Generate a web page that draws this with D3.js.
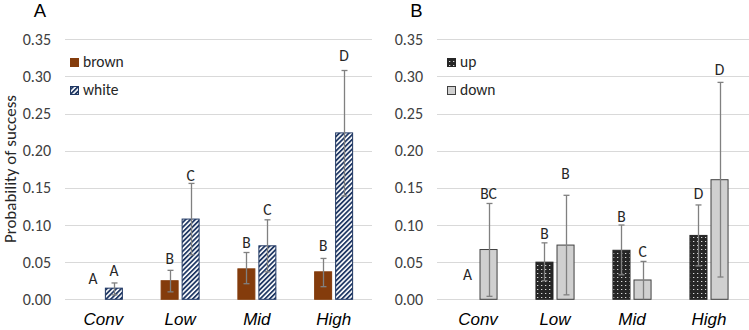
<!DOCTYPE html>
<html><head><meta charset="utf-8">
<script src="https://cdn.jsdelivr.net/npm/d3@7"></script>
<style>
body{margin:0;background:#fff;}
svg{display:block;}
</style></head>
<body>
<svg id="chart" width="749" height="330"></svg>
<script>
// ---- data ----
const categories = ["Conv", "Low", "Mid", "High"];
const yTicks = [0, 0.05, 0.10, 0.15, 0.20, 0.25, 0.30, 0.35];

// Panel A
const seriesA = ["brown", "white"];
const brownVal = [0, 0.025, 0.041, 0.037];
const brownErrHi = [0, 0.039, 0.063, 0.055];
const brownErrLo = [0, 0.010, 0.021, 0.017];
const brownLetter = ["A", "B", "B", "B"];
const brownLetterAt = [0.0206, 0.047, 0.0686, 0.065];
const whiteVal = [0.015, 0.108, 0.072, 0.224];
const whiteErrHi = [0.022, 0.156, 0.107, 0.308];
const whiteErrLo = [0.006, 0.060, 0.037, 0.139];
const whiteLetter = ["A", "C", "C", "D"];
const whiteLetterAt = [0.0314, 0.159, 0.114, 0.321];

// Panel B
const seriesB = ["up", "down"];
const upVal = [0, 0.050, 0.066, 0.086];
const upErrHi = [0, 0.076, 0.100, 0.127];
const upErrLo = [0, 0.025, 0.033, 0.045];
const upLetter = ["A", "B", "B", "D"];
const upLetterAt = [0.026, 0.081, 0.1045, 0.1346];
const downVal = [0.067, 0.073, 0.026, 0.161];
const downErrHi = [0.129, 0.140, 0.051, 0.292];
const downErrLo = [0.004, 0.006, 0, 0.030];
const downLetter = ["BC", "B", "C", "D"];
const downLetterAt = [0.1346, 0.1615, 0.057, 0.302];

const yTitle = "Probability of success";

// ---- drawing ----
const svg = d3.select("#chart");
const defs = svg.append("defs");

// stripes pattern
const stripe = defs.append("pattern").attr("id", "stripes")
  .attr("patternUnits", "userSpaceOnUse").attr("width", 3.4).attr("height", 4)
  .attr("patternTransform", "rotate(45)");
stripe.append("rect").attr("width", 3.4).attr("height", 4).attr("fill", "#ffffff");
stripe.append("rect").attr("width", 1.8).attr("height", 4).attr("fill", "#203864");

// dots pattern
const dots = defs.append("pattern").attr("id", "dots")
  .attr("patternUnits", "userSpaceOnUse").attr("width", 4).attr("height", 4);
dots.append("rect").attr("width", 4).attr("height", 4).attr("fill", "#262626");
dots.append("rect").attr("x", 1).attr("y", 1).attr("width", 1.3).attr("height", 1).attr("fill", "#d8d8d8");

const styles = {
  brown: {fill: "#843C0C", stroke: "#843C0C"},
  white: {fill: "url(#stripes)", stroke: "#203864"},
  up: {fill: "url(#dots)", stroke: "#262626"},
  down: {fill: "#d0d0d0", stroke: "#404040"}
};

const y = d3.scaleLinear().domain([0, 0.35]).range([299.3, 39.3]);

const labelFont = "Carlito, Lato, 'Open Sans', sans-serif";

function panel(opt) {
  const g = svg.append("g");
  const x0 = d3.scaleBand().domain(categories).range(opt.xRange)
    .paddingInner(0.492).paddingOuter(0.246);
  const x1 = d3.scaleBand().domain(opt.series).range([0, x0.bandwidth()])
    .paddingInner(0.1429).paddingOuter(0);

  // gridlines
  g.selectAll(".grid").data(yTicks).join("line")
    .attr("x1", opt.gridRange[0]).attr("x2", opt.gridRange[1])
    .attr("y1", d => Math.round(y(d)) + 0.5).attr("y2", d => Math.round(y(d)) + 0.5)
    .attr("stroke", "#d9d9d9").attr("stroke-width", 1);

  // y tick labels via axis
  const axis = d3.axisLeft(y).tickValues(yTicks).tickFormat(d3.format(".2f")).tickSize(0).tickPadding(0);
  const ag = g.append("g").attr("transform", `translate(${opt.tickX},0)`).call(axis);
  ag.select(".domain").remove();
  ag.selectAll("text").attr("font-family", labelFont).attr("font-size", 16).attr("fill", "#404040");

  // bars
  opt.series.forEach((s, si) => {
    const vals = opt.vals[si];
    const st = styles[s];
    g.selectAll(".bar" + s).data(categories).join("rect")
      .attr("x", c => x0(c) + x1(s) + 0.5)
      .attr("width", x1.bandwidth() - 1)
      .attr("y", (c, i) => y(vals[i]))
      .attr("height", (c, i) => Math.max(0, y(0) - y(vals[i])))
      .attr("fill", st.fill).attr("stroke", st.stroke).attr("stroke-width", 1)
      .attr("display", (c, i) => vals[i] > 0 ? null : "none");
  });

  // error bars
  opt.series.forEach((s, si) => {
    const hi = opt.hi[si], lo = opt.lo[si];
    const cx = c => x0(c) + x1(s) + x1.bandwidth() / 2;
    const eg = g.append("g").attr("stroke", "#808080").attr("stroke-width", 1.3);
    categories.forEach((c, i) => {
      if (hi[i] <= 0) return;
      const xx = Math.round(cx(c)) + 0.5;
      eg.append("line").attr("x1", xx).attr("x2", xx).attr("y1", y(hi[i])).attr("y2", y(lo[i]));
      eg.append("line").attr("x1", xx - 3).attr("x2", xx + 3).attr("y1", y(hi[i])).attr("y2", y(hi[i]));
      if (lo[i] > 0) eg.append("line").attr("x1", xx - 3).attr("x2", xx + 3).attr("y1", y(lo[i])).attr("y2", y(lo[i]));
    });
  });

  // letters
  opt.series.forEach((s, si) => {
    const lt = opt.letters[si], at = opt.letterAt[si];
    g.selectAll(".lt" + s).data(categories).join("text")
      .attr("x", c => x0(c) + x1(s) + x1.bandwidth() / 2)
      .attr("y", (c, i) => y(at[i]))
      .attr("text-anchor", "middle")
      .attr("font-family", labelFont).attr("font-size", 15.5).attr("fill", "#262626")
      .text((c, i) => lt[i]);
  });

  // category labels
  g.selectAll(".cat").data(categories).join("text")
    .attr("x", c => x0(c) + x0.bandwidth() / 2)
    .attr("y", 324.5)
    .attr("text-anchor", "middle")
    .attr("font-family", "'Liberation Sans', Arial, sans-serif")
    .attr("font-style", "italic").attr("font-size", 17).attr("fill", "#000")
    .text(c => c);

  // legend
  opt.series.forEach((s, si) => {
    const ly = 58 + si * 28;
    g.append("rect").attr("x", opt.legendX + 0.5).attr("y", ly + 0.5).attr("width", 8).attr("height", 8)
      .attr("fill", styles[s].fill).attr("stroke", styles[s].stroke).attr("stroke-width", 1);
    g.append("text").attr("x", opt.legendX + 13).attr("y", ly + 9)
      .attr("font-family", labelFont).attr("font-size", 15.5).attr("fill", "#262626").text(s);
  });

  // panel letter
  g.append("text").attr("x", opt.panelX).attr("y", 16.5).attr("text-anchor", "middle")
    .attr("font-family", "'Liberation Sans', Arial, sans-serif").attr("font-size", 18.5).attr("fill", "#000")
    .text(opt.panelLabel);
}

panel({
  xRange: [65, 372], gridRange: [65, 372], tickX: 51, legendX: 70, panelX: 40, panelLabel: "A",
  series: seriesA,
  vals: [brownVal, whiteVal], hi: [brownErrHi, whiteErrHi], lo: [brownErrLo, whiteErrLo],
  letters: [brownLetter, whiteLetter], letterAt: [brownLetterAt, whiteLetterAt]
});
panel({
  xRange: [439.5, 747.5], gridRange: [437, 749], tickX: 423, legendX: 447, panelX: 416.5, panelLabel: "B",
  series: seriesB,
  vals: [upVal, downVal], hi: [upErrHi, downErrHi], lo: [upErrLo, downErrLo],
  letters: [upLetter, downLetter], letterAt: [upLetterAt, downLetterAt]
});

// y title
svg.append("text")
  .attr("transform", "translate(16,169) rotate(-90)")
  .attr("text-anchor", "middle")
  .attr("font-family", labelFont).attr("font-size", 17).attr("fill", "#262626")
  .text(yTitle);
</script>
</body></html>
